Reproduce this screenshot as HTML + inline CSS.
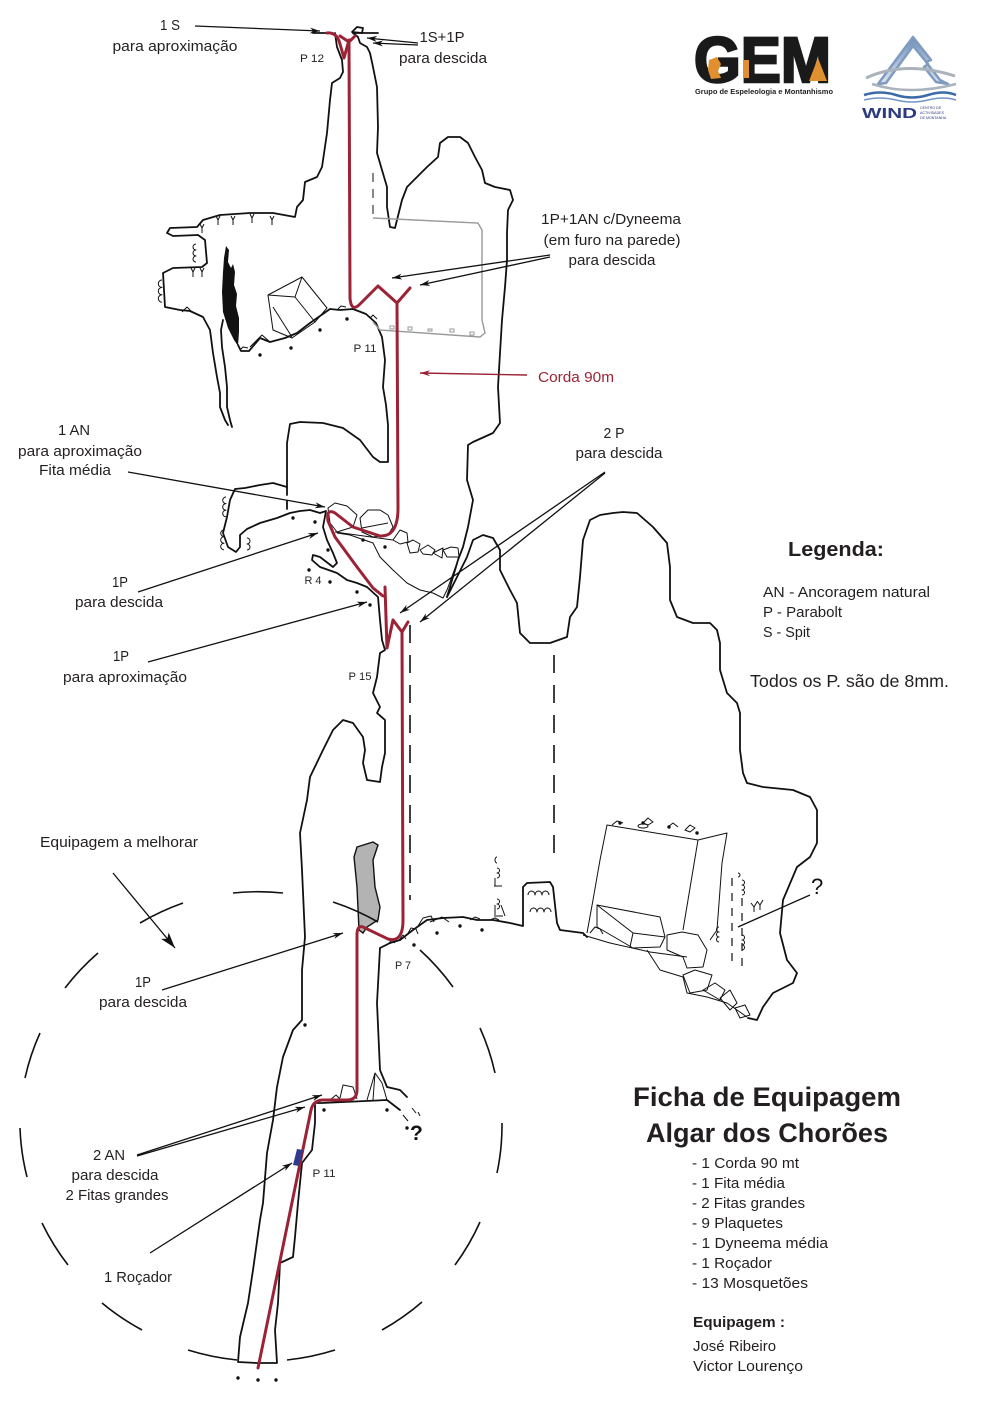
<!DOCTYPE html>
<html><head><meta charset="utf-8">
<style>
html,body{margin:0;padding:0;background:#fff;}
body{width:992px;height:1403px;overflow:hidden;position:relative;}
svg{position:absolute;left:0;top:0;}
.t{font-family:"Liberation Sans",sans-serif;font-size:14.5px;fill:#231f20;}
.s{font-family:"Liberation Sans",sans-serif;font-size:11px;fill:#231f20;}
.w{fill:none;stroke:#111;stroke-width:1.8;stroke-linejoin:round;stroke-linecap:round;}
.th{fill:none;stroke:#111;stroke-width:1;stroke-linejoin:round;}
.r{fill:none;stroke:#9b2335;stroke-width:3;stroke-linejoin:round;stroke-linecap:round;}
.a{stroke:#111;stroke-width:1.3;fill:none;}
.d{fill:#111;}
</style></head><body>
<svg width="992" height="1403" viewBox="0 0 992 1403" xmlns="http://www.w3.org/2000/svg">
<defs>
<marker id="ah" viewBox="0 0 10 6" refX="10" refY="3" markerWidth="10" markerHeight="6" markerUnits="userSpaceOnUse" orient="auto"><path d="M0,0 L10,3 L0,6 L3,3z" fill="#111"/></marker>
<marker id="ahr" viewBox="0 0 10 6" refX="10" refY="3" markerWidth="10" markerHeight="6" markerUnits="userSpaceOnUse" orient="auto"><path d="M0,0 L10,3 L0,6 L3,3z" fill="#9b2335"/></marker>
<marker id="ahb" viewBox="0 0 16 10" refX="16" refY="5" markerWidth="16" markerHeight="10" markerUnits="userSpaceOnUse" orient="auto"><path d="M0,0 L16,5 L0,10 L4,5z" fill="#111"/></marker>
<linearGradient id="mg" x1="0" y1="0" x2="0" y2="1"><stop offset="0" stop-color="#6d8fb8"/><stop offset="1" stop-color="#dfe7f0"/></linearGradient>
</defs>

<!-- ============ LOGOS ============ -->
<text x="694" y="82" font-family="Liberation Sans,sans-serif" font-weight="bold" font-size="64" fill="#1a1a1a" stroke="#1a1a1a" stroke-width="2.5" textLength="137" lengthAdjust="spacingAndGlyphs">GEM</text>
<path d="M709,60 L717,57 L721,64 L718,71 L721,78 L711,79 L708,70z" fill="#e0902e"/>
<path d="M743,60 L749,60 L749,78 L743,78z" fill="#e0902e"/>
<path d="M809,81 L818,58 L827,81z" fill="#e0902e"/>
<text x="695" y="94" font-family="Liberation Sans,sans-serif" font-weight="bold" font-size="7.5" fill="#222" textLength="138" lengthAdjust="spacingAndGlyphs">Grupo de Espeleologia e Montanhismo</text>

<path d="M878,84 L913,37 L931,60 L926,62 L940,80 L948,84 L936,82 L924,67 L928,64 L913,46 L886,83z" fill="url(#mg)" stroke="#7f9cc0" stroke-width="2.5" stroke-linejoin="round"/>
<path d="M866,78 Q905,60 955,76" fill="none" stroke="#aab2bd" stroke-width="3"/>
<path d="M872,84 Q910,96 956,84" fill="none" stroke="#aab2bd" stroke-width="2.5"/>
<path d="M864,95 Q880,90 896,95 Q912,100 928,95 Q944,90 956,95" fill="none" stroke="#3c6aa8" stroke-width="2.5"/>
<path d="M864,100 Q880,96 896,100 Q912,104 928,100 Q944,96 956,100" fill="none" stroke="#6f95c8" stroke-width="1.5"/>
<text x="862" y="118" font-family="Liberation Sans,sans-serif" font-weight="bold" font-size="15" fill="#2d3a80" textLength="55" lengthAdjust="spacingAndGlyphs">WIND</text>
<text x="920" y="109" font-family="Liberation Sans,sans-serif" font-size="3.6" fill="#2d3a80">CENTRO DE</text>
<text x="920" y="114" font-family="Liberation Sans,sans-serif" font-size="3.6" fill="#2d3a80">ACTIVIDADES</text>
<text x="920" y="119" font-family="Liberation Sans,sans-serif" font-size="3.6" fill="#2d3a80">DE MONTANHA</text>

<!-- ============ CAVE OUTLINES ============ -->
<polyline class="w" points="335,33 337,47 342,60 343,72 340,78 332,83 330,100 327,133 322,167 317,177 305,182 303,200 297,207 295,217 273,213 250,213 220,215 203,220 197,227 170,228 167,233 173,236 198,235 205,240 207,263 202,267 173,268 163,273 165,307 180,310 190,311 203,317 210,330 213,353 217,377 220,393 220,407 225,420 228,425"/>
<polyline class="w" points="223,320 221,330 222,347 225,367 227,387 227,407 230,420 232,427"/>
<path d="M226,246 L229,250 L228,262 L231,268 L233,264 L235,272 L234,285 L237,294 L236,306 L239,318 L239,332 L238,346 L234,340 L228,328 L223,312 L222,292 L223,272 L224,258z" fill="#111"/>
<polyline class="w" points="238,345 241,351 249,351 260,338 270,342 285,338 297,333 310,323 320,316 330,309 340,310 353,309 366,314 376,323 382,337 385,360 383,387 386,405 388,425 388,462 380,462 373,457 360,440 343,428 323,423 300,422 290,424 287,443 287,487"/>
<line class="w" x1="287" y1="487" x2="287" y2="513" stroke-dasharray="8 6"/>
<polyline class="w" points="287,487 273,483 260,485 245,488 235,489 230,500 227,517 223,533 228,547 236,552 240,547 240,535 247,529 260,523 277,518 290,513 300,511 310,510 320,513 326,511 323,527 327,540 333,553 337,563 333,567 320,557 313,555 312,560 320,567 337,573 347,580 357,583 367,587 378,597 380,620 382,640 385,650 380,653 377,677 373,693 380,707 377,713 385,720 385,753 382,767 380,782 367,780 363,763 365,750 363,737 353,723 343,720 333,730 323,750 310,777 307,800 300,833 302,870 305,937 302,970 302,1020 293,1030 283,1057 277,1087 273,1120 267,1153 263,1203 260,1220 253,1270 248,1303 240,1337 238,1362 257,1363 277,1363 275,1330 278,1303 280,1263 293,1257 295,1237 298,1203 302,1163 312,1150 315,1123 315,1103 322,1103 387,1100 400,1110"/>
<path class="th" d="M403,1115 l5,6 M412,1108 l4,5 M418,1112 l2,4"/>
<polyline class="th" points="337,533 350,535 373,543 380,557 393,570 407,583 420,590 433,593 443,598 447,590 458,560"/>
<polygon class="th" points="328,508 335,503 347,506 357,515 353,527 337,532 330,523"/>
<polygon class="th" points="360,518 368,510 380,510 388,515 393,527 388,535 373,537 362,532"/>
<line class="th" x1="362" y1="528" x2="388" y2="523"/>
<line class="th" x1="335" y1="532" x2="393" y2="540"/>
<polygon class="th" points="393,540 400,530 407,533 408,542 400,544"/>
<polygon class="th" points="407,543 413,540 420,544 418,552 410,553"/>
<polygon class="th" points="420,550 428,545 435,550 432,555 423,554"/>
<polygon class="th" points="433,553 443,548 442,558"/>
<polygon class="th" points="443,550 451,547 458,548 459,557 447,557"/>
<polyline class="w" points="353,33 358,37 360,43 367,47 370,53 373,67 377,87 378,127 377,153 382,170 387,187 387,207 390,227 395,228 397,220 402,200 407,187 417,177 427,167 438,157 440,143 448,137 460,137 468,143 475,157 482,170 485,183 495,187 510,190 513,200 508,210 507,233 507,260 505,287 502,320 500,353 498,387 500,423 493,433 473,442 468,445 467,480 473,500 468,527 463,547 458,560 447,597"/>
<polyline class="w" points="447,597 457,577 467,557 473,540 483,535 493,538 500,550 500,570 510,590 517,603 520,633 530,643 550,643 567,637 570,617 577,607 580,577 583,540 590,520 600,515 613,513 623,512 637,513 653,527 667,543 670,567 670,600 677,617 693,623 710,623 717,630 720,643 720,670 727,693 737,703 740,713 740,750 743,773 747,783 763,787 793,790 810,797 817,810 817,843 810,857 797,867 783,900 780,933 787,960 797,973 793,983 773,993 763,1007 757,1020 748,1018"/>
<path class="w" d="M352,32 L357,27 L363,28 L362,33z"/>
<line class="w" x1="353" y1="33" x2="378" y2="33"/>
<line class="w" x1="313" y1="33" x2="330" y2="33"/>
<line x1="373" y1="173" x2="373" y2="217" stroke="#555" stroke-width="1.4" stroke-dasharray="9 7"/>
<polyline points="373,218 478,223 482,230 482,320 485,333 480,337 380,330 373,322" fill="none" stroke="#999" stroke-width="1.4"/>
<path d="M390,329 h4 v-3 h-4z M408,330 h4 v-3 h-4z M428,331 h4 v-2 h-4z M450,332 h4 v-3 h-4z M470,335 h4 v-3 h-4z" fill="none" stroke="#999" stroke-width="1"/>
<polygon class="th" points="268,295 302,277 327,308 315,322 292,338 273,330"/>
<polyline class="th" points="268,295 295,297 302,277"/>
<line class="th" x1="295" y1="297" x2="315" y2="322"/>
<line class="th" x1="273" y1="307" x2="292" y2="337"/>
<polyline class="th" points="250,347 262,335 270,342"/>
<path class="th" d="M240,350 l3,-3 l5,1 M182,312 l5,-5 l4,4 M338,309 l3,-3 l5,1 M370,318 l3,-3 l4,4"/>
<path class="th" d="M200,224 l2,4 l2,-4 M202,228 v5 M216,216 l2,4 l2,-4 M218,220 v5 M231,216 l2,4 l2,-4 M233,220 v5 M250,214 l2,4 l2,-4 M252,218 v5 M270,216 l2,4 l2,-4 M272,220 v5 M191,268 l2,4 l2,-4 M193,272 v5 M200,268 l2,4 l2,-4 M202,272 v5"/>
<path class="th" d="M196,244 a3,3 0 0 0 0,6 a3,3 0 0 0 0,6 a3,3 0 0 0 0,6 M162,280 a3.7,3.7 0 0 0 0,7.4 a3.7,3.7 0 0 0 0,7.4 a3.7,3.7 0 0 0 0,7.4 M226,497 a3.3,3.3 0 0 0 0,6.6 a3.3,3.3 0 0 0 0,6.6 a3.3,3.3 0 0 0 0,6.6 M224,530 a3.3,3.3 0 0 0 0,6.6 a3.3,3.3 0 0 0 0,6.6 a3.3,3.3 0 0 0 0,6.6 M247,538 a3,3 0 0 1 0,6 a3,3 0 0 1 0,6"/>
<g class="d">
<circle cx="260" cy="355" r="1.7"/><circle cx="291" cy="348" r="1.7"/><circle cx="320" cy="330" r="1.7"/><circle cx="347" cy="319" r="1.7"/>
<circle cx="293" cy="518" r="1.7"/><circle cx="315" cy="522" r="1.7"/><circle cx="328" cy="550" r="1.7"/><circle cx="309" cy="570" r="1.7"/><circle cx="330" cy="582" r="1.7"/><circle cx="357" cy="592" r="1.7"/><circle cx="370" cy="605" r="1.7"/><circle cx="363" cy="540" r="1.7"/><circle cx="385" cy="547" r="1.7"/>
<circle cx="414" cy="945" r="1.7"/><circle cx="437" cy="933" r="1.7"/><circle cx="460" cy="926" r="1.7"/><circle cx="482" cy="930" r="1.7"/>
<circle cx="620" cy="823" r="1.7"/><circle cx="643" cy="823" r="1.7"/><circle cx="669" cy="827" r="1.7"/><circle cx="697" cy="833" r="1.7"/>
<circle cx="305" cy="1025" r="1.7"/><circle cx="324" cy="1110" r="1.7"/><circle cx="387" cy="1110" r="1.7"/><circle cx="407" cy="1128" r="1.7"/>
<circle cx="238" cy="1378" r="1.7"/><circle cx="258" cy="1380" r="1.7"/><circle cx="276" cy="1380" r="1.7"/>
</g>
<line x1="410" y1="625" x2="410" y2="900" stroke="#111" stroke-width="1.6" stroke-dasharray="18 12"/>
<line x1="554" y1="655" x2="554" y2="858" stroke="#111" stroke-width="1.6" stroke-dasharray="18 12"/>
<path d="M357,847 L373,842 L378,845 L373,860 L375,887 L380,907 L378,920 L367,927 L363,933 L359,930 L357,887 L354,857z" fill="#b3b3b3" stroke="#111" stroke-width="1.4"/>
<polyline class="w" points="380,948 377,1003 380,1070 387,1087 400,1090 407,1097"/>
<polyline class="w" points="380,948 390,943 400,940 413,930 427,920 443,918 463,917 477,920 493,920 510,923 523,926 523,887 527,883 550,882 553,887 557,923 560,930 583,933 587,937"/>
<path class="th" d="M388,944 l4,-4 l3,3 M399,940 l4,-5 l3,4 M407,935 l4,-7 l5,1 l2,5 M418,926 l5,-8 l8,-2 l3,6 M430,922 l12,-5 l7,5 M470,920 l5,-3 l5,2 M490,920 l5,-2 l4,2"/>
<polyline class="th" points="587,933 593,900 600,860 607,825 698,840 727,833 722,863 717,930 710,940"/>
<line class="th" x1="698" y1="840" x2="683" y2="930"/>
<polygon class="th" points="597,905 660,917 665,937 660,947 633,948 597,927"/>
<polyline class="th" points="597,905 633,933 665,937"/>
<line class="th" x1="633" y1="933" x2="630" y2="947"/>
<polygon class="th" points="667,935 682,932 698,935 707,950 703,967 687,968 683,957 667,950"/>
<polyline class="th" points="583,935 610,943 650,952 687,957"/>
<polyline class="th" points="647,950 660,970 683,977 687,993 707,997 727,1003 747,1017"/>
<polygon class="th" points="683,975 695,970 712,975 707,990 690,993"/>
<polygon class="th" points="703,990 715,983 725,990 720,1000"/>
<polygon class="th" points="720,998 730,990 737,1003 730,1010"/>
<polygon class="th" points="735,1008 745,1005 750,1015 740,1018"/>
<path class="th" d="M590,933 l5,-6 l5,2 l3,5 M612,825 l5,-4 l6,2 M643,823 l5,-5 l5,4 l-5,3z M668,827 l5,-4 l5,4 M685,830 l5,-5 l5,3 l-5,4z M638,826 a5,2 0 1 0 10,0 a5,2 0 1 0 -10,0"/>
<path class="th" d="M497,857 a2,3 0 0 0 0,6 M497,868 a2.5,2.5 0 0 1 0,5 a2.5,2.5 0 0 1 0,5 M494,886 h8 M495,878 v8 M497,899 a2.5,2.5 0 0 1 0,5 a2.5,2.5 0 0 1 0,5 M494,916 h9 M495,905 v10 M501,905 l4,11"/>
<path class="th" d="M528,895 a3.5,4 0 0 1 7,0 a3.5,4 0 0 1 7,0 a3.5,4 0 0 1 7,0 M530,912 a3.5,4 0 0 1 7,0 a3.5,4 0 0 1 7,0 a3.5,4 0 0 1 7,0"/>
<path class="th" d="M738,873 a2,2 0 0 1 0,4 M742,880 a2.5,2.5 0 0 1 0,5 a2.5,2.5 0 0 1 0,5 a2.5,2.5 0 0 1 0,5 M719,927 a2.5,2.5 0 0 0 0,5 a2.5,2.5 0 0 0 0,5 a2.5,2.5 0 0 0 0,5 M742,935 a2.5,2.5 0 0 1 0,5 a2.5,2.5 0 0 1 0,5 a2.5,2.5 0 0 1 0,5"/>
<path d="M732,878 v90 M742,898 v72" stroke="#111" stroke-width="1.2" stroke-dasharray="8 7" fill="none"/>
<path class="th" d="M751,903 l3,4 l0,5 M754,907 l3,-5 M757,901 l3,4 l0,5 M760,905 l3,-5"/>
<line class="a" x1="738" y1="927" x2="810" y2="895" stroke-width="1.6"/>
<path class="th" d="M340,1098 l3,-13 l10,2 l4,12 M367,1100 l8,-27 l7,10 l5,17 M375,1073 l-2,27 M330,1100 l6,-5 l4,4"/>

<g fill="none" stroke="#111" stroke-width="1.6">
<path d="M233,893 A241,235 0 0 1 283,893"/>
<path d="M333,902 A241,235 0 0 1 378,922"/>
<path d="M420,950 A241,235 0 0 1 453,987"/>
<path d="M480,1028 A241,235 0 0 1 495,1073"/>
<path d="M502,1123 A241,235 0 0 1 497,1173"/>
<path d="M480,1222 A241,235 0 0 1 455,1265"/>
<path d="M422,1302 A241,235 0 0 1 382,1330"/>
<path d="M335,1350 A241,235 0 0 1 287,1360"/>
<path d="M237,1360 A241,235 0 0 1 188,1350"/>
<path d="M142,1330 A241,235 0 0 1 102,1303"/>
<path d="M68,1265 A241,235 0 0 1 42,1223"/>
<path d="M27,1177 A241,235 0 0 1 20,1128"/>
<path d="M25,1078 A241,235 0 0 1 40,1033"/>
<path d="M65,988 A241,235 0 0 1 98,953"/>
<path d="M140,923 A241,235 0 0 1 183,903"/>
</g>

<!-- ============ ROPE ============ -->
<path class="r" d="M327,33 Q337,32 340,44 L344,58 L349,40"/>
<path class="r" d="M340,36 L349,42 L355,36"/>
<path class="r" d="M349,42 L350,298 Q351,312 359,305 L378,286 L397,303 L410,288"/>
<path class="r" d="M397,303 L398,508 Q398,537 380,536 L353,527 L335,513 Q326,508 328,521 L335,537 L357,567 L373,588 L383,596"/>
<path class="r" d="M385,587 L387,648 L393,620 L402,632 L408,622"/>
<path class="r" d="M402,632 L403,920 Q403,943 388,939 L363,927 Q357,925 357,935 L357,1090 Q357,1100 347,1100 L322,1100 Q313,1101 311,1110 L258,1368"/>
<path d="M297,1149 L303,1150 L299,1166 L293,1165z" fill="#2e3a8c"/>

<!-- ============ ARROWS ============ -->
<g class="a">
<line x1="195" y1="26" x2="320" y2="31" marker-end="url(#ah)"/>
<line x1="418" y1="43" x2="367" y2="38" marker-end="url(#ah)"/>
<line x1="418" y1="45" x2="373" y2="43" marker-end="url(#ah)"/>
<line x1="550" y1="255" x2="392" y2="278" marker-end="url(#ah)"/>
<line x1="550" y1="257" x2="420" y2="285" marker-end="url(#ah)"/>
<line x1="128" y1="472" x2="325" y2="507" marker-end="url(#ah)"/>
<line x1="138" y1="592" x2="318" y2="533" marker-end="url(#ah)"/>
<line x1="148" y1="662" x2="367" y2="602" marker-end="url(#ah)"/>
<line x1="605" y1="472" x2="400" y2="613" marker-end="url(#ah)"/>
<line x1="605" y1="473" x2="420" y2="622" marker-end="url(#ah)"/>
<line x1="113" y1="873" x2="175" y2="948" marker-end="url(#ahb)"/>
<line x1="162" y1="990" x2="343" y2="933" marker-end="url(#ah)"/>
<line x1="137" y1="1155" x2="322" y2="1095" marker-end="url(#ah)"/>
<line x1="137" y1="1156" x2="305" y2="1107" marker-end="url(#ah)"/>
<line x1="150" y1="1253" x2="292" y2="1163" marker-end="url(#ah)"/>
</g>
<line x1="527" y1="375" x2="420" y2="373" stroke="#9b2335" stroke-width="1.4" marker-end="url(#ahr)"/>

<!-- ============ LABELS ============ -->
<g class="t" text-anchor="middle">
<text x="170" y="30" textLength="20" lengthAdjust="spacingAndGlyphs">1 S</text>
<text x="175" y="51" textLength="125" lengthAdjust="spacingAndGlyphs">para aproximação</text>
<text x="442" y="42" textLength="45" lengthAdjust="spacingAndGlyphs">1S+1P</text>
<text x="443" y="63" textLength="88" lengthAdjust="spacingAndGlyphs">para descida</text>
<text x="611" y="224" textLength="140" lengthAdjust="spacingAndGlyphs">1P+1AN c/Dyneema</text>
<text x="612" y="245" textLength="137" lengthAdjust="spacingAndGlyphs">(em furo na parede)</text>
<text x="612" y="265" textLength="87" lengthAdjust="spacingAndGlyphs">para descida</text>
<text x="74" y="435" textLength="32" lengthAdjust="spacingAndGlyphs">1 AN</text>
<text x="80" y="456" textLength="124" lengthAdjust="spacingAndGlyphs">para aproximação</text>
<text x="75" y="475" textLength="72" lengthAdjust="spacingAndGlyphs">Fita média</text>
<text x="614" y="438" textLength="21" lengthAdjust="spacingAndGlyphs">2 P</text>
<text x="619" y="458" textLength="87" lengthAdjust="spacingAndGlyphs">para descida</text>
<text x="120" y="587" textLength="16" lengthAdjust="spacingAndGlyphs">1P</text>
<text x="119" y="607" textLength="88" lengthAdjust="spacingAndGlyphs">para descida</text>
<text x="121" y="661" textLength="16" lengthAdjust="spacingAndGlyphs">1P</text>
<text x="125" y="682" textLength="124" lengthAdjust="spacingAndGlyphs">para aproximação</text>
<text x="143" y="987" textLength="16" lengthAdjust="spacingAndGlyphs">1P</text>
<text x="143" y="1007" textLength="88" lengthAdjust="spacingAndGlyphs">para descida</text>
<text x="109" y="1160" textLength="32" lengthAdjust="spacingAndGlyphs">2 AN</text>
<text x="115" y="1180" textLength="87" lengthAdjust="spacingAndGlyphs">para descida</text>
<text x="117" y="1200" textLength="103" lengthAdjust="spacingAndGlyphs">2 Fitas grandes</text>
<text x="138" y="1282" textLength="68" lengthAdjust="spacingAndGlyphs">1 Roçador</text>
</g>
<text class="t" x="40" y="847" textLength="158" lengthAdjust="spacingAndGlyphs">Equipagem a melhorar</text>
<text class="t" x="538" y="382" style="fill:#9b2335" textLength="76" lengthAdjust="spacingAndGlyphs">Corda 90m</text>

<g class="s" text-anchor="middle">
<text x="312" y="62" textLength="24" lengthAdjust="spacingAndGlyphs">P 12</text>
<text x="365" y="352" textLength="23" lengthAdjust="spacingAndGlyphs">P 11</text>
<text x="313" y="584" textLength="17" lengthAdjust="spacingAndGlyphs">R 4</text>
<text x="360" y="680" textLength="23" lengthAdjust="spacingAndGlyphs">P 15</text>
<text x="403" y="969" textLength="16" lengthAdjust="spacingAndGlyphs">P 7</text>
<text x="324" y="1177" textLength="23" lengthAdjust="spacingAndGlyphs">P 11</text>
</g>
<text x="811" y="894" font-family="Liberation Sans,sans-serif" font-size="22" fill="#111">?</text>
<text x="410" y="1140" font-family="Liberation Sans,sans-serif" font-weight="bold" font-size="21" fill="#111">?</text>

<text x="836" y="556" text-anchor="middle" font-family="Liberation Sans,sans-serif" font-weight="bold" font-size="20" fill="#231f20" textLength="96" lengthAdjust="spacingAndGlyphs">Legenda:</text>
<text class="t" x="763" y="597" textLength="167" lengthAdjust="spacingAndGlyphs">AN - Ancoragem natural</text>
<text class="t" x="763" y="617" textLength="79" lengthAdjust="spacingAndGlyphs">P - Parabolt</text>
<text class="t" x="763" y="637" textLength="47" lengthAdjust="spacingAndGlyphs">S - Spit</text>
<text x="750" y="687" font-family="Liberation Sans,sans-serif" font-size="17.5" fill="#231f20" textLength="199" lengthAdjust="spacingAndGlyphs">Todos os P. são de 8mm.</text>

<text x="767" y="1106" text-anchor="middle" font-family="Liberation Sans,sans-serif" font-weight="bold" font-size="27" fill="#231f20" textLength="268" lengthAdjust="spacingAndGlyphs">Ficha de Equipagem</text>
<text x="767" y="1142" text-anchor="middle" font-family="Liberation Sans,sans-serif" font-weight="bold" font-size="27" fill="#231f20" textLength="242" lengthAdjust="spacingAndGlyphs">Algar dos Chorões</text>
<g font-family="Liberation Sans,sans-serif" font-size="15" fill="#231f20">
<text x="692" y="1168" textLength="107" lengthAdjust="spacingAndGlyphs">- 1 Corda 90 mt</text>
<text x="692" y="1188" textLength="93" lengthAdjust="spacingAndGlyphs">- 1 Fita média</text>
<text x="692" y="1208" textLength="113" lengthAdjust="spacingAndGlyphs">- 2 Fitas grandes</text>
<text x="692" y="1228" textLength="91" lengthAdjust="spacingAndGlyphs">- 9 Plaquetes</text>
<text x="692" y="1248" textLength="136" lengthAdjust="spacingAndGlyphs">- 1 Dyneema média</text>
<text x="692" y="1268" textLength="80" lengthAdjust="spacingAndGlyphs">- 1 Roçador</text>
<text x="692" y="1288" textLength="116" lengthAdjust="spacingAndGlyphs">- 13 Mosquetões</text>
<text x="693" y="1327" font-weight="bold" textLength="92" lengthAdjust="spacingAndGlyphs">Equipagem :</text>
<text x="693" y="1351" textLength="83" lengthAdjust="spacingAndGlyphs">José Ribeiro</text>
<text x="693" y="1371" textLength="110" lengthAdjust="spacingAndGlyphs">Victor Lourenço</text>
</g>
</svg>
</body></html>
